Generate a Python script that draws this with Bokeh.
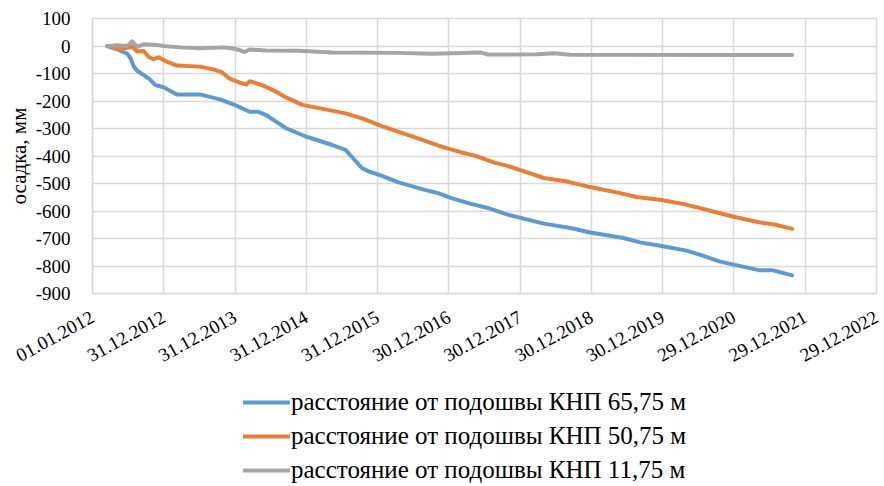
from bokeh.plotting import figure
from bokeh.layouts import column
from bokeh.models import Range1d, FixedTicker, Legend, LegendItem
from bokeh.embed import file_html
from bokeh.resources import INLINE

# days since 01.01.2012
blue_days = [76, 127, 150, 178, 195, 212, 229, 262, 288, 322, 364, 432, 550, 652, 728, 805, 847, 889,
             940, 991, 1093, 1228, 1296, 1338, 1380, 1414, 1465, 1567, 1702, 1770, 1838, 1939, 2024,
             2126, 2193, 2312, 2448, 2549, 2719, 2803, 2922, 3042, 3125, 3210, 3295, 3413, 3481, 3583]
blue_vals = [0, -12, -20, -28, -45, -75, -90, -106, -118, -142, -150, -176, -176, -194, -214, -239, -239, -251,
             -275, -299, -329, -360, -378, -411, -444, -456, -468, -496, -523, -535, -553, -574, -589,
             -613, -625, -646, -662, -678, -698, -714, -728, -744, -762, -783, -797, -815, -815, -834]

orange_days = [76, 144, 184, 203, 229, 262, 288, 313, 338, 381, 432, 550, 618, 661, 703, 754, 788, 805,
               872, 940, 991, 1075, 1160, 1296, 1380, 1482, 1652, 1787, 1889, 1973, 2058, 2126, 2211,
               2312, 2431, 2549, 2702, 2786, 2905, 3024, 3159, 3278, 3413, 3498, 3583]
orange_vals = [0, -12, -6, -2, -20, -18, -40, -48, -41, -57, -71, -75, -85, -95, -119, -133, -140, -128,
               -143, -166, -187, -214, -226, -245, -263, -291, -332, -366, -387, -402, -424, -436, -456,
               -480, -493, -513, -535, -549, -559, -574, -598, -620, -641, -650, -665]

gray_days = [76, 127, 169, 186, 203, 229, 262, 330, 364, 449, 550, 669, 720, 754, 779, 805, 889, 1059,
             1228, 1567, 1736, 1990, 2024, 2278, 2363, 2448, 3583]
gray_vals = [0, 3, 0, 4, 17, -3, 6, 4, 0, -5, -8, -5, -9, -15, -22, -13, -16, -17,
             -24, -25, -28, -24, -31, -30, -26, -32, -33]

tick_days = [0, 365, 730, 1095, 1460, 1825, 2190, 2555, 2920, 3285, 3650, 4015]
tick_labels = ["01.01.2012", "31.12.2012", "31.12.2013", "31.12.2014", "31.12.2015", "30.12.2016",
               "30.12.2017", "30.12.2018", "30.12.2019", "29.12.2020", "29.12.2021", "29.12.2022"]
y_ticks = [-900, -800, -700, -600, -500, -400, -300, -200, -100, 0, 100]
y_tick_labels = ["-900", "-800", "-700", "-600", "-500", "-400", "-300", "-200", "-100", "0", "100"]

series_names = ["расстояние от подошвы КНП 65,75 м",
                "расстояние от подошвы КНП 50,75 м",
                "расстояние от подошвы КНП 11,75 м"]
colors = ["#5B9BD5", "#ED7D31", "#A5A5A5"]

FONT = "Liberation Serif"
GRID = "#D9D9D9"

p = figure(width=884, height=370, output_backend="svg", toolbar_location=None,
           x_range=Range1d(0, 4015), y_range=Range1d(-900, 100),
           min_border_left=92, min_border_right=8, min_border_top=18, min_border_bottom=76)
p.background_fill_color = "white"
p.border_fill_color = "white"
p.outline_line_color = GRID
p.outline_line_width = 1.5

p.xaxis.ticker = FixedTicker(ticks=tick_days)
p.xaxis.major_label_overrides = {d: l for d, l in zip(tick_days, tick_labels)}
p.yaxis.ticker = FixedTicker(ticks=y_ticks)
p.yaxis.major_label_overrides = {t: l for t, l in zip(y_ticks, y_tick_labels)}
p.xgrid.ticker = FixedTicker(ticks=tick_days)
p.ygrid.ticker = FixedTicker(ticks=y_ticks)
for g in (p.xgrid, p.ygrid):
    g.grid_line_color = GRID
    g.grid_line_width = 1.5

for ax in (p.xaxis, p.yaxis):
    ax.axis_line_color = GRID
    ax.axis_line_width = 1.5
    ax.major_tick_line_color = None
    ax.minor_tick_line_color = None
    ax.major_label_text_font = FONT
    ax.major_label_text_font_size = "19px"
    ax.major_label_text_color = "#000000"

p.xaxis.major_label_orientation = 0.5
p.xaxis.major_label_standoff = 16
p.yaxis.major_label_standoff = 16
p.yaxis.axis_label = "осадка, мм"
p.yaxis.axis_label_text_font = FONT
p.yaxis.axis_label_text_font_size = "21px"
p.yaxis.axis_label_text_font_style = "normal"
p.yaxis.axis_label_text_color = "#000000"
p.yaxis.axis_label_standoff = 2

series = [(blue_days, blue_vals), (orange_days, orange_vals), (gray_days, gray_vals)]
for (d, v), c in zip(series, colors):
    p.line(d, v, line_color=c, line_width=4, line_join="round", line_cap="round")

# legend panel below the chart (its lines sit outside its visible range)
lg = figure(width=884, height=116, output_backend="svg", toolbar_location=None,
            x_range=Range1d(0, 1), y_range=Range1d(0, 1),
            x_axis_location=None, y_axis_location=None,
            min_border_left=0, min_border_right=0, min_border_top=0, min_border_bottom=0)
lg.grid.visible = False
lg.outline_line_color = None
lg.background_fill_color = "white"
lg.border_fill_color = "white"
items = []
for c, n in zip(colors, series_names):
    r = lg.line(x=[5, 6], y=[5, 6], line_color=c, line_width=4, line_cap="round")
    items.append(LegendItem(label=n, renderers=[r]))

legend = Legend(items=items, orientation="vertical", location=(151, 2),
                label_text_font=FONT, label_text_font_size="25px", label_text_color="#000000",
                glyph_width=47, glyph_height=26, label_height=26, label_standoff=1, spacing=6,
                padding=0, margin=0, background_fill_alpha=0, border_line_alpha=0)
lg.add_layout(legend, "center")

layout = column(p, lg, spacing=0)
open("out.html", "w").write(file_html(layout, INLINE))
